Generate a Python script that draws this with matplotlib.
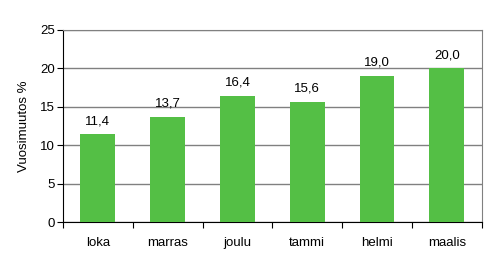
import matplotlib
matplotlib.use("Agg")
import matplotlib.pyplot as plt

months = ["loka", "marras", "joulu", "tammi", "helmi", "maalis"]
change = [11.4, 13.7, 16.4, 15.6, 19.0, 20.0]
y_ticks = [0, 5, 10, 15, 20, 25]

plt.rcParams["font.family"] = ["Liberation Sans", "DejaVu Sans"]
plt.rcParams["font.size"] = 9

fig = plt.figure(figsize=(4.94, 2.64), dpi=100)
ax = fig.add_axes([0.1275, 0.159, 0.8475, 0.729])

x = list(range(len(months)))
bars = ax.bar(x, change, width=0.5, color="#54BF45", zorder=3)

for xi, v in zip(x, change):
    ax.annotate(f"{v:.1f}".replace(".", ","), (xi, v), xytext=(0, 5),
                textcoords="offset points", ha="center", va="bottom", fontsize=9.5)

ax.set_xlim(-0.5, len(months) - 0.5)
ax.set_ylim(0, 25)
ax.set_yticks(y_ticks)
ax.yaxis.grid(True, color="#808080", lw=1)
ax.set_axisbelow(True)

# category boundaries get the tick marks, names sit in between
ax.set_xticks([i - 0.5 for i in range(len(months) + 1)])
ax.set_xticklabels([])
ax.set_xticks(x, minor=True)
ax.set_xticklabels(months, minor=True)
ax.tick_params(axis="x", which="major", length=4, direction="out")
ax.tick_params(axis="x", which="minor", length=0, pad=11, labelsize=9.5)
ax.tick_params(axis="y", length=4, direction="out", pad=2, labelsize=9.5)

for side in ("top", "right"):
    ax.spines[side].set_color("#808080")
for side in ("left", "bottom"):
    ax.spines[side].set_color("black")

ax.set_ylabel("Vuosimuutos %", labelpad=7, fontsize=9.5)

fig.savefig("out.png", dpi=100, facecolor="white")
